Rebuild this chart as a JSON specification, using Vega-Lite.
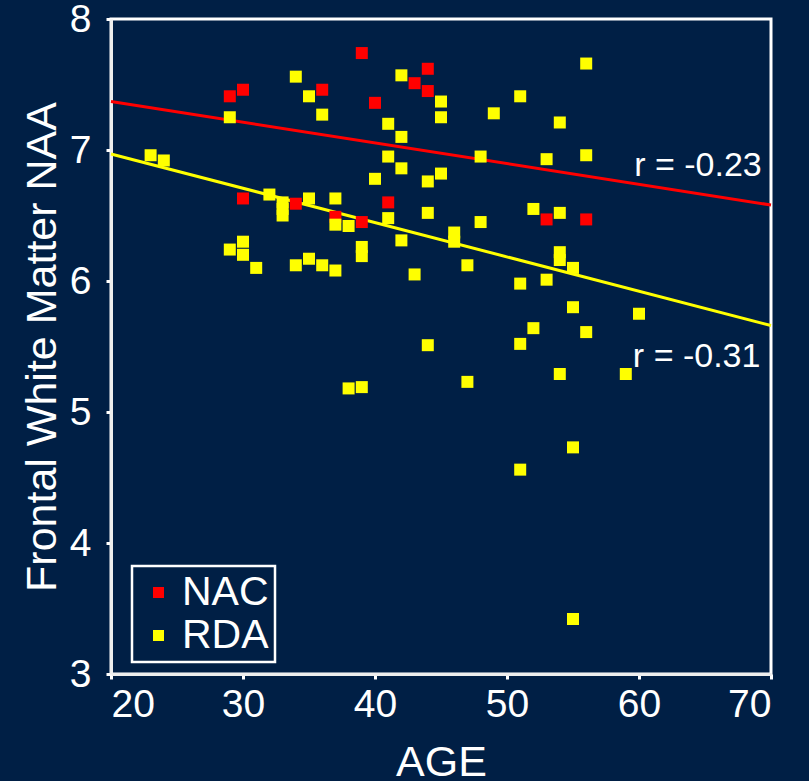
{
  "$schema": "https://vega.github.io/schema/vega-lite/v6.json",
  "width": 660,
  "height": 655,
  "autosize": "none",
  "padding": {"left": 111, "top": 19, "right": 38, "bottom": 107},
  "background": "#001f45",
  "config": {
    "font": "Liberation Sans",
    "view": {"stroke": "#ffffff", "strokeWidth": 3},
    "axis": {
      "domainColor": "#eeeeee",
      "domainWidth": 3,
      "tickColor": "#ffffff",
      "tickSize": 5,
      "tickWidth": 3,
      "grid": false,
      "labelColor": "#ffffff",
      "labelFontSize": 39,
      "labelFont": "Liberation Sans",
      "titleColor": "#ffffff",
      "titleFontSize": 43,
      "titleFont": "Liberation Sans",
      "titleFontWeight": "normal"
    },
    "legend": {
      "strokeColor": "#ffffff",
      "strokeWidth": 2.5
    }
  },
  "datasets": {
    "points": [
      {"group": "NAC", "age": 29, "naa": 7.41},
      {"group": "NAC", "age": 30, "naa": 7.46},
      {"group": "NAC", "age": 36, "naa": 7.46},
      {"group": "NAC", "age": 39, "naa": 7.74},
      {"group": "NAC", "age": 40, "naa": 7.36},
      {"group": "NAC", "age": 43, "naa": 7.51},
      {"group": "NAC", "age": 44, "naa": 7.62},
      {"group": "NAC", "age": 44, "naa": 7.45},
      {"group": "NAC", "age": 30, "naa": 6.63},
      {"group": "NAC", "age": 34, "naa": 6.59},
      {"group": "NAC", "age": 37, "naa": 6.49},
      {"group": "NAC", "age": 39, "naa": 6.45},
      {"group": "NAC", "age": 41, "naa": 6.6},
      {"group": "NAC", "age": 53, "naa": 6.47},
      {"group": "NAC", "age": 56, "naa": 6.47},
      {"group": "RDA", "age": 34, "naa": 7.56},
      {"group": "RDA", "age": 35, "naa": 7.41},
      {"group": "RDA", "age": 36, "naa": 7.27},
      {"group": "RDA", "age": 29, "naa": 7.25},
      {"group": "RDA", "age": 42, "naa": 7.57},
      {"group": "RDA", "age": 41, "naa": 7.2},
      {"group": "RDA", "age": 42, "naa": 7.1},
      {"group": "RDA", "age": 41, "naa": 6.95},
      {"group": "RDA", "age": 42, "naa": 6.86},
      {"group": "RDA", "age": 40, "naa": 6.78},
      {"group": "RDA", "age": 44, "naa": 6.76},
      {"group": "RDA", "age": 23, "naa": 6.96},
      {"group": "RDA", "age": 24, "naa": 6.92},
      {"group": "RDA", "age": 32, "naa": 6.66},
      {"group": "RDA", "age": 33, "naa": 6.6},
      {"group": "RDA", "age": 33, "naa": 6.55},
      {"group": "RDA", "age": 33, "naa": 6.5},
      {"group": "RDA", "age": 35, "naa": 6.63},
      {"group": "RDA", "age": 37, "naa": 6.63},
      {"group": "RDA", "age": 37, "naa": 6.43},
      {"group": "RDA", "age": 38, "naa": 6.42},
      {"group": "RDA", "age": 39, "naa": 6.26},
      {"group": "RDA", "age": 39, "naa": 6.19},
      {"group": "RDA", "age": 41, "naa": 6.48},
      {"group": "RDA", "age": 42, "naa": 6.31},
      {"group": "RDA", "age": 44, "naa": 6.52},
      {"group": "RDA", "age": 29, "naa": 6.24},
      {"group": "RDA", "age": 30, "naa": 6.3},
      {"group": "RDA", "age": 30, "naa": 6.2},
      {"group": "RDA", "age": 31, "naa": 6.1},
      {"group": "RDA", "age": 34, "naa": 6.12},
      {"group": "RDA", "age": 35, "naa": 6.17},
      {"group": "RDA", "age": 36, "naa": 6.12},
      {"group": "RDA", "age": 37, "naa": 6.08},
      {"group": "RDA", "age": 43, "naa": 6.05},
      {"group": "RDA", "age": 38, "naa": 5.18},
      {"group": "RDA", "age": 39, "naa": 5.19},
      {"group": "RDA", "age": 44, "naa": 5.51},
      {"group": "RDA", "age": 56, "naa": 7.66},
      {"group": "RDA", "age": 45, "naa": 7.37},
      {"group": "RDA", "age": 45, "naa": 7.25},
      {"group": "RDA", "age": 51, "naa": 7.41},
      {"group": "RDA", "age": 49, "naa": 7.28},
      {"group": "RDA", "age": 54, "naa": 7.21},
      {"group": "RDA", "age": 48, "naa": 6.95},
      {"group": "RDA", "age": 53, "naa": 6.93},
      {"group": "RDA", "age": 56, "naa": 6.96},
      {"group": "RDA", "age": 45, "naa": 6.82},
      {"group": "RDA", "age": 52, "naa": 6.55},
      {"group": "RDA", "age": 54, "naa": 6.52},
      {"group": "RDA", "age": 48, "naa": 6.45},
      {"group": "RDA", "age": 46, "naa": 6.37},
      {"group": "RDA", "age": 46, "naa": 6.3},
      {"group": "RDA", "age": 54, "naa": 6.22},
      {"group": "RDA", "age": 54, "naa": 6.16},
      {"group": "RDA", "age": 55, "naa": 6.1},
      {"group": "RDA", "age": 47, "naa": 6.12},
      {"group": "RDA", "age": 51, "naa": 5.98},
      {"group": "RDA", "age": 53, "naa": 6.01},
      {"group": "RDA", "age": 55, "naa": 5.8},
      {"group": "RDA", "age": 60, "naa": 5.75},
      {"group": "RDA", "age": 52, "naa": 5.64},
      {"group": "RDA", "age": 56, "naa": 5.61},
      {"group": "RDA", "age": 51, "naa": 5.52},
      {"group": "RDA", "age": 47, "naa": 5.23},
      {"group": "RDA", "age": 54, "naa": 5.29},
      {"group": "RDA", "age": 59, "naa": 5.29},
      {"group": "RDA", "age": 55, "naa": 4.73},
      {"group": "RDA", "age": 51, "naa": 4.56},
      {"group": "RDA", "age": 55, "naa": 3.42}
    ],
    "lines": [
      {"group": "NAC", "age": 20, "naa": 7.37},
      {"group": "NAC", "age": 70, "naa": 6.58},
      {"group": "RDA", "age": 20, "naa": 6.97},
      {"group": "RDA", "age": 70, "naa": 5.66}
    ],
    "labels": [
      {"text": "r = -0.23", "age": 69.3, "naa": 6.88},
      {"text": "r = -0.31", "age": 69.2, "naa": 5.42}
    ]
  },
  "layer": [
    {
      "data": {"name": "lines"},
      "transform": [{"filter": "datum.group === 'NAC'"}],
      "mark": {"type": "line", "strokeWidth": 3, "color": "#ff0000"},
      "encoding": {
        "x": {"field": "age", "type": "quantitative"},
        "y": {"field": "naa", "type": "quantitative"}
      }
    },
    {
      "data": {"name": "lines"},
      "transform": [{"filter": "datum.group === 'RDA'"}],
      "mark": {"type": "line", "strokeWidth": 3, "color": "#ffff00"},
      "encoding": {
        "x": {"field": "age", "type": "quantitative"},
        "y": {"field": "naa", "type": "quantitative"}
      }
    },
    {
      "data": {"name": "points"},
      "mark": {"type": "square", "size": 144, "opacity": 1},
      "encoding": {
        "x": {
          "field": "age",
          "type": "quantitative",
          "scale": {"domain": [20, 70], "nice": false, "zero": false},
          "axis": {
            "title": "AGE",
            "values": [20, 30, 40, 50, 60, 70],
            "format": "d",
            "labelPadding": 6,
            "titlePadding": 17
          }
        },
        "y": {
          "field": "naa",
          "type": "quantitative",
          "scale": {"domain": [3, 8], "nice": false, "zero": false},
          "axis": {
            "title": "Frontal White Matter NAA",
            "values": [3, 4, 5, 6, 7, 8],
            "format": "d",
            "labelPadding": 15,
            "titlePadding": 5
          }
        },
        "color": {
          "field": "group",
          "type": "nominal",
          "scale": {"domain": ["NAC", "RDA"], "range": ["#ff0000", "#ffff00"]},
          "legend": {
            "title": null,
            "orient": "none",
            "legendX": 21,
            "legendY": 547,
            "padding": 6,
            "labelColor": "#ffffff",
            "labelFontSize": 41,
            "labelFont": "Liberation Sans",
            "labelOffset": 3,
            "symbolType": "square",
            "symbolSize": 121,
            "symbolStrokeWidth": 0,
            "symbolOpacity": 1,
            "rowPadding": 1
          }
        }
      }
    },
    {
      "data": {"name": "labels"},
      "mark": {"type": "text", "align": "right", "baseline": "middle", "fontSize": 34, "color": "#ffffff", "font": "Liberation Sans"},
      "encoding": {
        "x": {"field": "age", "type": "quantitative"},
        "y": {"field": "naa", "type": "quantitative"},
        "text": {"field": "text", "type": "nominal"}
      }
    }
  ]
}
